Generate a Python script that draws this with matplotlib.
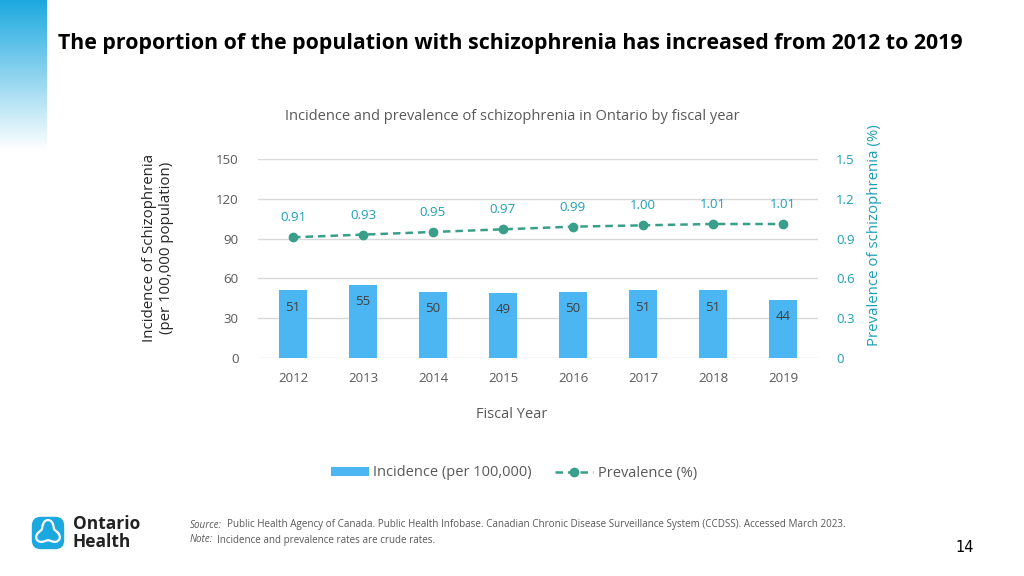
import matplotlib
matplotlib.use("Agg")
import matplotlib.pyplot as plt
import numpy as np
from matplotlib.patches import FancyBboxPatch, Patch
from matplotlib.lines import Line2D

years = ["2012", "2013", "2014", "2015", "2016", "2017", "2018", "2019"]
incidence = [51, 55, 50, 49, 50, 51, 51, 44]
prevalence = [0.91, 0.93, 0.95, 0.97, 0.99, 1.00, 1.01, 1.01]
left_ticks = [0, 30, 60, 90, 120, 150]
right_ticks = [0, 0.3, 0.6, 0.9, 1.2, 1.5]
right_tick_labels = ["0", "0.3", "0.6", "0.9", "1.2", "1.5"]

FONT = "Open Sans"
plt.rcParams['font.family'] = [FONT, 'DejaVu Sans']

BAR = "#4BB6F2"
LINE = "#3A9F8A"
TEAL = "#1E9FB5"
GRAY = "#595959"

fig = plt.figure(figsize=(10.24, 5.76), dpi=100)

# left gradient decoration
gax = fig.add_axes([0, 1 - 150/576, 47/1024, 150/576])
grad = np.linspace(0, 1, 256).reshape(-1, 1)
c0 = np.array([0x1A, 0xA8, 0xDF]) / 255
c1 = np.array([1.0, 1.0, 1.0])
img = c0[None, None, :] * (1 - grad[:, :, None]) + c1[None, None, :] * grad[:, :, None]
gax.imshow(img, aspect='auto', extent=[0, 1, 0, 1])
gax.axis('off')

fig.text(58/1024, 1 - 43/576, "The proportion of the population with schizophrenia has increased from 2012 to 2019",
         fontsize=15.4, fontweight='bold', color='black', va='center', ha='left')

fig.text(512/1024, 1 - 116/576, "Incidence and prevalence of schizophrenia in Ontario by fiscal year",
         fontsize=10.5, color=GRAY, ha='center', va='center')

ax = fig.add_axes([258/1024, 1 - 358/576, 560/1024, 199/576])
x = np.arange(len(years))
ax.bar(x, incidence, width=0.39, color=BAR, zorder=2)
ax.set_xlim(-0.5, len(years) - 0.5)
ax.set_ylim(0, 150)
ax.set_yticks(left_ticks)
ax.set_xticks(x)
ax.set_xticklabels(years)
ax.tick_params(axis='both', length=0, colors=GRAY, labelsize=9.5)
ax.tick_params(axis='y', pad=14)
ax.tick_params(axis='x', pad=10)
for s in ax.spines.values():
    s.set_visible(False)
ax.grid(axis='y', color='#D9D9D9', linewidth=1, zorder=0)
ax.set_axisbelow(True)
for xi, v in zip(x, incidence):
    ax.annotate(str(v), (xi, v), xytext=(0, -12), textcoords='offset points',
                ha='center', va='center', fontsize=9.5, color='#404040')

fig.text(512/1024, 1 - 415/576, "Fiscal Year", fontsize=10.5, color=GRAY, ha='center', va='center')
fig.text(158/1024, 1 - 248/576, "Incidence of Schizophrenia\n(per 100,000 population)",
         fontsize=10.8, color='#262626', rotation=90, ha='center', va='center', multialignment='center')

ax2 = ax.twinx()
ax2.set_ylim(0, 1.5)
ax2.plot(x, prevalence, color=LINE, linestyle='--', dashes=(3, 2), linewidth=1.8,
         marker='o', markersize=6, zorder=3)
ax2.set_yticks(right_ticks)
ax2.set_yticklabels(right_tick_labels)
ax2.tick_params(axis='y', length=0, colors=TEAL, labelsize=9.5, pad=13)
for s in ax2.spines.values():
    s.set_visible(False)
for xi, v in zip(x, prevalence):
    ax2.annotate(f"{v:.2f}", (xi, v), xytext=(0, 14), textcoords='offset points',
                 ha='center', va='center', fontsize=9.5, color=TEAL)
fig.text(875/1024, 1 - 235/576, "Prevalence of schizophrenia (%)",
         fontsize=10.8, color=TEAL, rotation=90, ha='center', va='center')

handles = [Patch(facecolor=BAR, edgecolor='none'),
           Line2D([0], [0], color=LINE, linestyle='--', dashes=(3, 2), linewidth=1.8, marker='o', markersize=6)]
fig.legend(handles, ["Incidence (per 100,000)", "Prevalence (%)"], loc='center',
           bbox_to_anchor=(514/1024, 1 - 473/576), ncol=2, frameon=False,
           fontsize=10.5, labelcolor=GRAY, handlelength=2.6, handleheight=0.6,
           columnspacing=1.6, handletextpad=0.3)

# logo
lax = fig.add_axes([30/1024, 1 - 551/576, 36/1024, 36/576])
lax.set_xlim(0, 1); lax.set_ylim(0, 1); lax.axis('off')
lax.add_patch(FancyBboxPatch((0.05, 0.05), 0.9, 0.9, boxstyle="round,pad=0,rounding_size=0.25",
                             facecolor="#1AA8DF", edgecolor='none'))
t = np.linspace(0, 2*np.pi, 400)
r = 0.28 + 0.08*np.cos(3*t + np.pi/2)
lax.plot(0.5 + r*np.cos(t), 0.5 + r*np.sin(t), color='white', linewidth=1.6)
fig.text(73/1024, 1 - 533/576, "Ontario\nHealth", fontsize=12.5, fontweight='bold',
         color='#222222', va='center', ha='left', linespacing=1.0)

fig.text(190/1024, 1 - 525/576, "Source:", fontsize=7.1, color=GRAY, va='center', style='italic')
fig.text(227/1024, 1 - 525/576,
         "Public Health Agency of Canada. Public Health Infobase. Canadian Chronic Disease Surveillance System (CCDSS). Accessed March 2023.",
         fontsize=7.1, color=GRAY, va='center')
fig.text(190/1024, 1 - 540/576, "Note:", fontsize=7.1, color=GRAY, va='center', style='italic')
fig.text(217/1024, 1 - 540/576, "Incidence and prevalence rates are crude rates.",
         fontsize=7.1, color=GRAY, va='center')

fig.text(965/1024, 1 - 548/576, "14", fontsize=10.5, color='black', ha='center', va='center', family='DejaVu Sans')

fig.savefig("out.png", dpi=100)
